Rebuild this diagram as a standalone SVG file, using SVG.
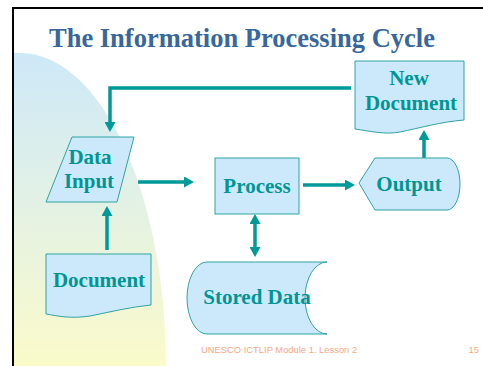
<svg xmlns="http://www.w3.org/2000/svg" width="483" height="366" viewBox="0 0 483 366">
<defs>
<linearGradient id="bg" x1="0" y1="0" x2="0" y2="1">
<stop offset="0" stop-color="#cde8f8"/>
<stop offset="0.45" stop-color="#e1f1e6"/>
<stop offset="1" stop-color="#fbfbca"/>
</linearGradient>
<marker id="ah" viewBox="0 0 10 11" refX="2" refY="5.5" markerWidth="10" markerHeight="11" markerUnits="userSpaceOnUse" orient="auto-start-reverse">
<path d="M0,0 L10,5.5 L0,11 Z" fill="#009999"/>
</marker>
<style>
.shape{fill:#cce9fb;stroke:#2fa3a3;stroke-width:1}
.lbl{font-family:"Liberation Serif","Times New Roman",serif;font-weight:bold;font-size:21px;fill:#009595;text-anchor:middle}
.conn{fill:none;stroke:#009999;stroke-width:3.5}
</style>
</defs>
<rect width="483" height="366" fill="#ffffff"/>
<path d="M13,366 L13,53 L20,53 A146,313 0 0 1 166,366 Z" fill="url(#bg)"/>
<path d="M13,366 L13,8 L483,8" fill="none" stroke="#000000" stroke-width="2"/>
<text x="49" y="47" font-family="'Liberation Serif','Times New Roman',serif" font-weight="bold" font-size="26.5" fill="#37679c">The Information Processing Cycle</text>

<g id="connectors">
<path class="conn" d="M107,250 L107,214" marker-end="url(#ah)"/>
<path class="conn" d="M351,88 L110,88 L110,124" marker-end="url(#ah)"/>
<path class="conn" d="M138,182 L186,182" marker-end="url(#ah)"/>
<path class="conn" d="M303,185 L347,185" marker-end="url(#ah)"/>
<path class="conn" d="M424,158 L424,138" marker-end="url(#ah)"/>
<path class="conn" d="M255,222 L255,249" marker-start="url(#ah)" marker-end="url(#ah)"/>
</g>

<g id="data-input">
<polygon class="shape" points="72,137 134,137 117,202 46,202"/>
<text class="lbl" x="90" y="164">Data</text>
<text class="lbl" x="89" y="188">Input</text>
</g>

<g id="document">
<path class="shape" d="M46,254 L151,254 L151,305 C130,307 110,312 90,316 C70,319 58,316 46,314 Z"/>
<text class="lbl" x="99" y="287">Document</text>
</g>

<g id="process">
<rect class="shape" x="215" y="158" width="84" height="56"/>
<text class="lbl" x="257" y="193">Process</text>
</g>

<g id="output">
<path class="shape" d="M359,183 L375,158 L447,158 A13,26 0 0 1 447,210 L375,210 Z"/>
<text class="lbl" x="409" y="191">Output</text>
</g>

<g id="new-document">
<path class="shape" d="M355,61 L464,61 L464,120 C440,122 420,128 400,132 C385,135 370,131 355,129 Z"/>
<text class="lbl" x="409" y="85">New</text>
<text class="lbl" x="411" y="110">Document</text>
</g>

<g id="stored-data">
<path class="shape" d="M207,262 L327,262 A22,36 0 0 0 327,334 L207,334 A20,36 0 0 1 207,262 Z"/>
<text class="lbl" x="257" y="304">Stored Data</text>
</g>

<text x="201" y="353" font-family="'Liberation Sans',Arial,sans-serif" font-size="9.4" fill="#f6a882">UNESCO ICTLIP Module 1. Lesson 2</text>
<text x="479" y="353" font-family="'Liberation Sans',Arial,sans-serif" font-size="9.4" fill="#f6a882" text-anchor="end">15</text>
</svg>
